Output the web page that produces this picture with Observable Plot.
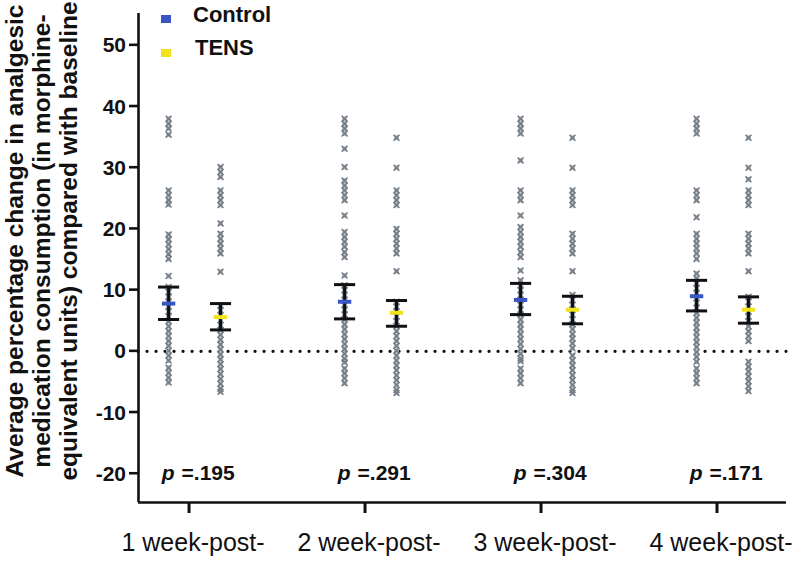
<!DOCTYPE html>
<html>
<head>
<meta charset="utf-8">
<script src="https://cdn.jsdelivr.net/npm/d3@7"></script>
<script src="https://cdn.jsdelivr.net/npm/@observablehq/plot@0.6"></script>
<style>
  html, body { margin: 0; padding: 0; background: #fff; }
  #wrap { position: relative; width: 800px; height: 562px; overflow: hidden; font-family: "Liberation Sans", Arial, sans-serif; }
  #ytitle { position: absolute; left: 41px; top: 241px; transform: translate(-50%, -50%) rotate(-90deg); white-space: nowrap; text-align: center; font-weight: bold; font-size: 24.5px; line-height: 27px; color: #111; }
  .leg { position: absolute; font-weight: bold; font-size: 22px; color: #111; line-height: 22px; }
  .sw { position: absolute; width: 10px; height: 8px; }
</style>
</head>
<body>
<div id="wrap"></div>
<script>
// ---- data ----
const groups = ["1 week-post-", "2 week-post-", "3 week-post-", "4 week-post-"];
const pValues = [".195", ".291", ".304", ".171"];
const yTicks = [-20, -10, 0, 10, 20, 30, 40, 50];

const controlMean  = [7.8, 8.1, 8.4, 9.0];
const controlUpper = [10.5, 10.9, 11.1, 11.6];
const controlLower = [5.2, 5.3, 6.0, 6.6];
const tensMean  = [5.6, 6.3, 6.8, 6.8];
const tensUpper = [7.8, 8.3, 9.0, 8.9];
const tensLower = [3.5, 4.1, 4.5, 4.6];

const control1 = [38.0, 37.2, 36.4, 35.4, 26.3, 25.5, 24.7, 24.0, 19.1, 18.3, 17.5, 16.7, 15.9, 15.1, 12.3, 10.5, 9.7, 8.9, 8.1, 7.3, 6.5, 5.7, 4.9, 4.1, 3.3, 2.5, 1.7, 0.9, 0.1, -0.7, -1.5, -2.7, -3.5, -4.3, -5.1];
const tens1 = [30.1, 29.3, 28.5, 26.3, 25.5, 24.7, 23.9, 20.9, 19.2, 18.4, 17.6, 16.8, 16.0, 13.0, 7.5, 6.7, 5.9, 5.1, 4.3, 3.5, 2.7, 1.9, 1.1, 0.3, -0.5, -1.3, -2.1, -2.9, -3.7, -4.5, -5.3, -6.1, -6.6];
const control2 = [38.0, 37.2, 36.4, 35.6, 33.1, 30.1, 27.9, 27.1, 26.3, 25.5, 24.7, 22.2, 19.5, 18.7, 17.9, 17.1, 16.2, 15.4, 12.4, 10.8, 10.0, 9.2, 8.4, 7.6, 6.8, 6.0, 5.2, 4.4, 3.6, 2.8, 2.0, 1.2, 0.4, -0.4, -1.2, -1.8, -2.8, -3.6, -4.4, -5.2];
const tens2 = [34.9, 30.0, 26.3, 25.5, 24.7, 23.9, 20.0, 19.2, 18.4, 17.6, 16.8, 16.0, 13.1, 8.1, 7.3, 6.5, 5.7, 4.9, 4.1, 3.3, 2.5, 1.7, 0.9, 0.1, -0.7, -1.5, -2.3, -3.1, -3.9, -4.7, -5.5, -6.3, -6.8];
const control3 = [38.0, 37.2, 36.4, 35.6, 31.2, 26.3, 25.5, 24.7, 22.2, 20.3, 19.5, 18.7, 17.9, 17.1, 16.2, 15.4, 13.2, 11.6, 10.8, 10.0, 9.2, 8.4, 7.6, 6.8, 6.0, 5.2, 4.4, 3.6, 2.8, 2.0, 1.2, 0.4, -0.4, -1.2, -1.6, -2.8, -3.6, -4.4, -5.2];
const tens3 = [34.9, 30.0, 26.3, 25.5, 24.7, 23.9, 19.2, 18.4, 17.6, 16.8, 16.0, 13.1, 9.2, 8.4, 7.6, 6.8, 6.0, 5.2, 4.4, 3.6, 2.8, 2.1, 1.3, 0.5, -0.7, -1.5, -2.3, -3.1, -3.9, -4.7, -5.5, -6.3, -6.8];
const control4 = [38.0, 37.2, 36.4, 35.6, 26.3, 25.5, 24.7, 21.9, 19.2, 18.4, 17.6, 16.8, 16.0, 15.1, 12.7, 11.9, 11.1, 10.3, 9.5, 8.7, 7.9, 7.1, 6.3, 5.5, 4.7, 3.9, 3.1, 2.3, 1.5, 0.7, -0.1, -0.9, -1.7, -2.8, -3.6, -4.4, -5.2];
const tens4 = [34.9, 30.0, 28.1, 26.3, 25.5, 24.7, 23.9, 19.2, 18.4, 17.6, 16.8, 16.0, 13.1, 8.9, 8.1, 7.3, 6.5, 5.7, 4.9, 4.1, 3.3, 2.5, 1.7, -1.7, -2.5, -3.3, -4.1, -4.9, -5.7, -6.5];

const controlSeries = [control1, control2, control3, control4];
const tensSeries = [tens1, tens2, tens3, tens4];

// ---- layout ----
const xDomain = [0.71, 4.392];
const yDomain = [-24.7, 55.2];
const offC = -0.119, offT = 0.176;
const blue = "#3a55c6", yellow = "#f2e31c";

const points = [];
groups.forEach((g, i) => {
  controlSeries[i].forEach(v => points.push({x: i + 1 + offC, y: v}));
  tensSeries[i].forEach(v => points.push({x: i + 1 + offT, y: v}));
});
const stats = [];
groups.forEach((g, i) => {
  stats.push({x: i + 1 + offC, mean: controlMean[i], upper: controlUpper[i], lower: controlLower[i], c: blue});
  stats.push({x: i + 1 + offT, mean: tensMean[i], upper: tensUpper[i], lower: tensLower[i], c: yellow});
});
const pRows = groups.map((g, i) => ({x: i + 1, p: pValues[i]}));

const capW = 0.06, meanW = 0.038;

const chart = Plot.plot({
  width: 800,
  height: 562,
  marginLeft: 138,
  marginRight: 14,
  marginTop: 13,
  marginBottom: 60,
  x: {type: "linear", domain: xDomain, axis: null},
  y: {domain: yDomain, axis: null},
  style: {fontFamily: "Liberation Sans, Arial, sans-serif", color: "#111", background: "white"},
  marks: [
    Plot.ruleY([0], {x1: xDomain[0], x2: xDomain[1], stroke: "#111", strokeWidth: 3.2, strokeDasharray: "0.1,8.9", strokeLinecap: "round"}),
    Plot.dot(points, {x: "x", y: "y", symbol: "square", r: 2.8, fill: "#b8bdc2", stroke: "none"}),
    Plot.dot(points, {x: "x", y: "y", symbol: "times", r: 2.8, stroke: "#737c86", strokeWidth: 1.5}),
    Plot.ruleX(stats, {x: "x", y1: "lower", y2: "upper", stroke: "#111", strokeWidth: 3}),
    Plot.link(stats, {x1: d => d.x - capW, x2: d => d.x + capW, y1: "upper", y2: "upper", stroke: "#111", strokeWidth: 3}),
    Plot.link(stats, {x1: d => d.x - capW, x2: d => d.x + capW, y1: "lower", y2: "lower", stroke: "#111", strokeWidth: 3}),
    Plot.link(stats, {x1: d => d.x - meanW, x2: d => d.x + meanW, y1: "mean", y2: "mean", stroke: "c", strokeWidth: 4}),
    Plot.ruleX([xDomain[0]], {y1: yDomain[0], y2: yDomain[1], stroke: "#111", strokeWidth: 2.6}),
    Plot.ruleY([yDomain[0]], {x1: xDomain[0], x2: xDomain[1], stroke: "#111", strokeWidth: 2.6}),
    Plot.text(pRows, {x: "x", y: -20, text: d => "p", dx: -15, textAnchor: "end", fontSize: 21, fontWeight: "bold", fontStyle: "italic", fill: "#111"}),
    Plot.text(pRows, {x: "x", y: -20, text: d => "=" + d.p, dx: -8, textAnchor: "start", fontSize: 21, fontWeight: "bold", fill: "#111"})
  ]
});

// axis ticks and labels, positioned through the plot's own scales
const svg = d3.select(chart);
const xs = chart.scale("x"), ys = chart.scale("y");
const x0 = xs.apply(xDomain[0]), yb = ys.apply(yDomain[0]);
const ax = svg.append("g");
yTicks.forEach(t => {
  const y = ys.apply(t);
  ax.append("line").attr("x1", x0 - 9).attr("x2", x0).attr("y1", y).attr("y2", y).attr("stroke", "#111").attr("stroke-width", 2.6);
  ax.append("text").attr("x", x0 - 12).attr("y", y).attr("dy", "0.36em").attr("text-anchor", "end")
    .attr("font-size", 21).attr("font-weight", "bold").attr("fill", "#111").text(t);
});
groups.forEach((g, i) => {
  const x = xs.apply(i + 1);
  ax.append("line").attr("x1", x).attr("x2", x).attr("y1", yb).attr("y2", yb + 11).attr("stroke", "#111").attr("stroke-width", 3);
  ax.append("text").attr("x", x + 4).attr("y", yb + 49).attr("text-anchor", "middle")
    .attr("font-size", 25).attr("fill", "#111").text(g);
});

const wrap = document.getElementById("wrap");
wrap.appendChild(chart);

const yt = document.createElement("div");
yt.id = "ytitle";
yt.innerHTML = "Average percentage change in analgesic<br>medication consumption (in morphine-<br>equivalent units) compared with baseline";
wrap.appendChild(yt);

function legend(color, label, sx, sy, tx, ty) {
  const s = document.createElement("div");
  s.className = "sw"; s.style.background = color; s.style.left = sx + "px"; s.style.top = sy + "px";
  wrap.appendChild(s);
  const t = document.createElement("div");
  t.className = "leg"; t.textContent = label; t.style.left = tx + "px"; t.style.top = ty + "px";
  wrap.appendChild(t);
}
legend(blue, "Control", 161, 15, 193, 4);
legend(yellow, "TENS", 161, 49, 195, 37);
</script>
</body>
</html>
